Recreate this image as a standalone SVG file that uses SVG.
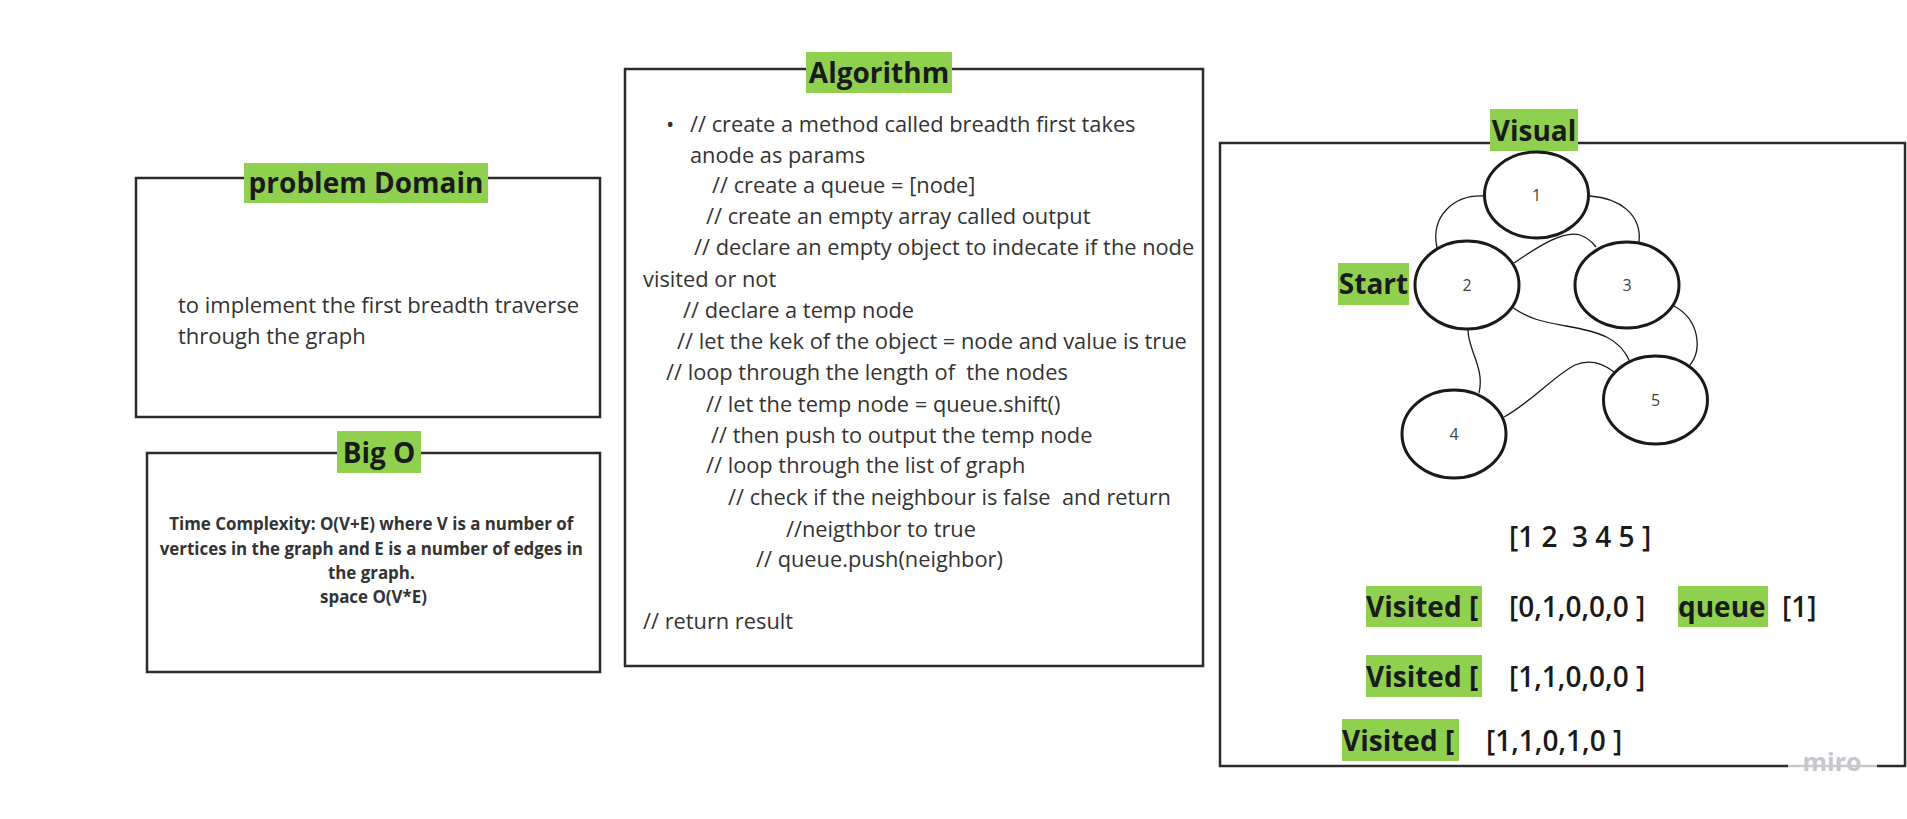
<svg xmlns="http://www.w3.org/2000/svg" width="1907" height="819" viewBox="0 0 1907 819">
<style>
.box{fill:none;stroke:#2b2b2b;stroke-width:2.5}
.lbl{fill:#8fd14f}
.lt{font-family:"Open Sans","Liberation Sans",sans-serif;font-weight:700;font-size:28px;fill:#1a1a1a}
.body{font-family:"Open Sans","Liberation Sans",sans-serif;font-size:22px;fill:#333;white-space:pre}
.alg{font-size:21.8px}
.bo{font-family:"Open Sans","Liberation Sans",sans-serif;font-weight:700;font-size:16.9px;fill:#333}
.node{fill:#fff;stroke:#1a1a1a;stroke-width:3}
.nt{font-family:"Open Sans","Liberation Sans",sans-serif;font-size:16px;fill:#444}
.edge{fill:none;stroke:#1a1a1a;stroke-width:1.3}
.arr{font-family:"Open Sans","Liberation Sans",sans-serif;font-weight:600;font-size:28px;fill:#1a1a1a;white-space:pre}
</style>
<rect width="1907" height="819" fill="#fff"/>

<g id="problem-domain">
<rect class="box" x="136" y="178" width="464" height="239"/>
<rect class="lbl" x="244" y="163" width="244" height="40"/>
<text class="lt" x="366" y="193" text-anchor="middle">problem Domain</text>
<text class="body" x="178" y="313">to implement the first breadth traverse</text>
<text class="body" x="178" y="344">through the graph</text>
</g>

<g id="big-o">
<rect class="box" x="147" y="453" width="453" height="219"/>
<rect class="lbl" x="337" y="431" width="84" height="42"/>
<text class="lt" x="379" y="463" text-anchor="middle">Big O</text>
<text class="bo" text-anchor="middle">
<tspan x="373.5" y="530">Time Complexity: O(V+E) where V is a number of</tspan>
<tspan x="373.5" y="555">vertices in the graph and E is a number of edges in</tspan>
<tspan x="373.5" y="579">the graph.</tspan>
<tspan x="373.5" y="603">space O(V*E)</tspan>
</text>
</g>

<g id="algorithm">
<rect class="box" x="625" y="69" width="578" height="597"/>
<rect class="lbl" x="806" y="52" width="146" height="41"/>
<text class="lt" x="879" y="83" text-anchor="middle">Algorithm</text>
<text class="body" x="666" y="132" font-size="16">•</text>
<text class="body alg">
<tspan x="690" y="132">// create a method called breadth first takes</tspan>
<tspan x="690" y="163">anode as params</tspan>
<tspan x="712" y="193">// create a queue = [node]</tspan>
<tspan x="706" y="224">// create an empty array called output</tspan>
<tspan x="694" y="255">// declare an empty object to indecate if the node</tspan>
<tspan x="643" y="287">visited or not</tspan>
<tspan x="683" y="318">// declare a temp node</tspan>
<tspan x="677" y="349">// let the kek of the object = node and value is true</tspan>
<tspan x="666" y="380">// loop through the length of  the nodes</tspan>
<tspan x="706" y="412">// let the temp node = queue.shift()</tspan>
<tspan x="711" y="443">// then push to output the temp node</tspan>
<tspan x="706" y="473">// loop through the list of graph</tspan>
<tspan x="728" y="505">// check if the neighbour is false  and return</tspan>
<tspan x="786" y="537">//neigthbor to true</tspan>
<tspan x="756" y="567">// queue.push(neighbor)</tspan>
<tspan x="643" y="629">// return result</tspan>
</text>
</g>

<g id="visual">
<rect class="box" x="1220" y="143" width="685" height="623"/>
<rect class="lbl" x="1490" y="109" width="88" height="42"/>
<text class="lt" x="1534" y="141" text-anchor="middle">Visual</text>
<rect class="lbl" x="1338" y="263" width="71" height="42"/>
<text class="lt" x="1373.5" y="294" text-anchor="middle">Start</text>
</g>

<g id="connectors">
<path class="edge" d="M1483,196 C1455,195 1430,215 1437,248"/>
<path class="edge" d="M1590,196 C1620,198 1642,215 1639,242"/>
<path class="edge" d="M1514,263 C1540,245 1565,230 1580,235 C1588,238 1593,243 1596,247"/>
<path class="edge" d="M1512,307 C1530,320 1545,322 1566,326 C1600,332 1620,338 1630,362"/>
<path class="edge" d="M1674,306 C1700,320 1702,350 1690,365"/>
<path class="edge" d="M1468,330 C1468,350 1485,368 1479,393"/>
<path class="edge" d="M1504,417 C1530,403 1555,375 1575,365 C1592,358 1605,365 1614,372"/>
</g>

<g id="node-1"><ellipse class="node" cx="1536.5" cy="195" rx="52" ry="43"/><text class="nt" x="1536.5" y="201" text-anchor="middle">1</text></g>
<g id="node-2"><ellipse class="node" cx="1467" cy="285" rx="52" ry="44"/><text class="nt" x="1467" y="291" text-anchor="middle">2</text></g>
<g id="node-3"><ellipse class="node" cx="1627" cy="285" rx="52" ry="43"/><text class="nt" x="1627" y="291" text-anchor="middle">3</text></g>
<g id="node-4"><ellipse class="node" cx="1454" cy="434" rx="52" ry="44"/><text class="nt" x="1454" y="440" text-anchor="middle">4</text></g>
<g id="node-5"><ellipse class="node" cx="1655.5" cy="400" rx="52" ry="44"/><text class="nt" x="1655.5" y="406" text-anchor="middle">5</text></g>

<g id="traversal">
<text class="arr" x="1509" y="547" font-size="26" xml:space="preserve">[1 2  3 4 5 ]</text>
<rect class="lbl" x="1366" y="586" width="116" height="41"/>
<text class="lt" x="1366" y="617">Visited [</text>
<text class="arr" x="1509" y="617" xml:space="preserve">[0,1,0,0,0 ]</text>
<rect class="lbl" x="1678" y="586" width="90" height="41"/>
<text class="lt" x="1678" y="617">queue</text>
<text class="arr" x="1782" y="617">[1]</text>
<rect class="lbl" x="1366" y="655" width="116" height="42"/>
<text class="lt" x="1366" y="687">Visited [</text>
<text class="arr" x="1509" y="687" xml:space="preserve">[1,1,0,0,0 ]</text>
<rect class="lbl" x="1342" y="719" width="117" height="42"/>
<text class="lt" x="1342" y="751">Visited [</text>
<text class="arr" x="1486" y="751" xml:space="preserve">[1,1,0,1,0 ]</text>
</g>

<g id="watermark">
<rect x="1788" y="755" width="89" height="18" fill="#fff" fill-opacity="0.75"/>
<text x="1832" y="771" text-anchor="middle" font-family="'Open Sans','Liberation Sans',sans-serif" font-weight="700" font-size="25" fill="#c6c6d0">miro</text>
</g>
</svg>
